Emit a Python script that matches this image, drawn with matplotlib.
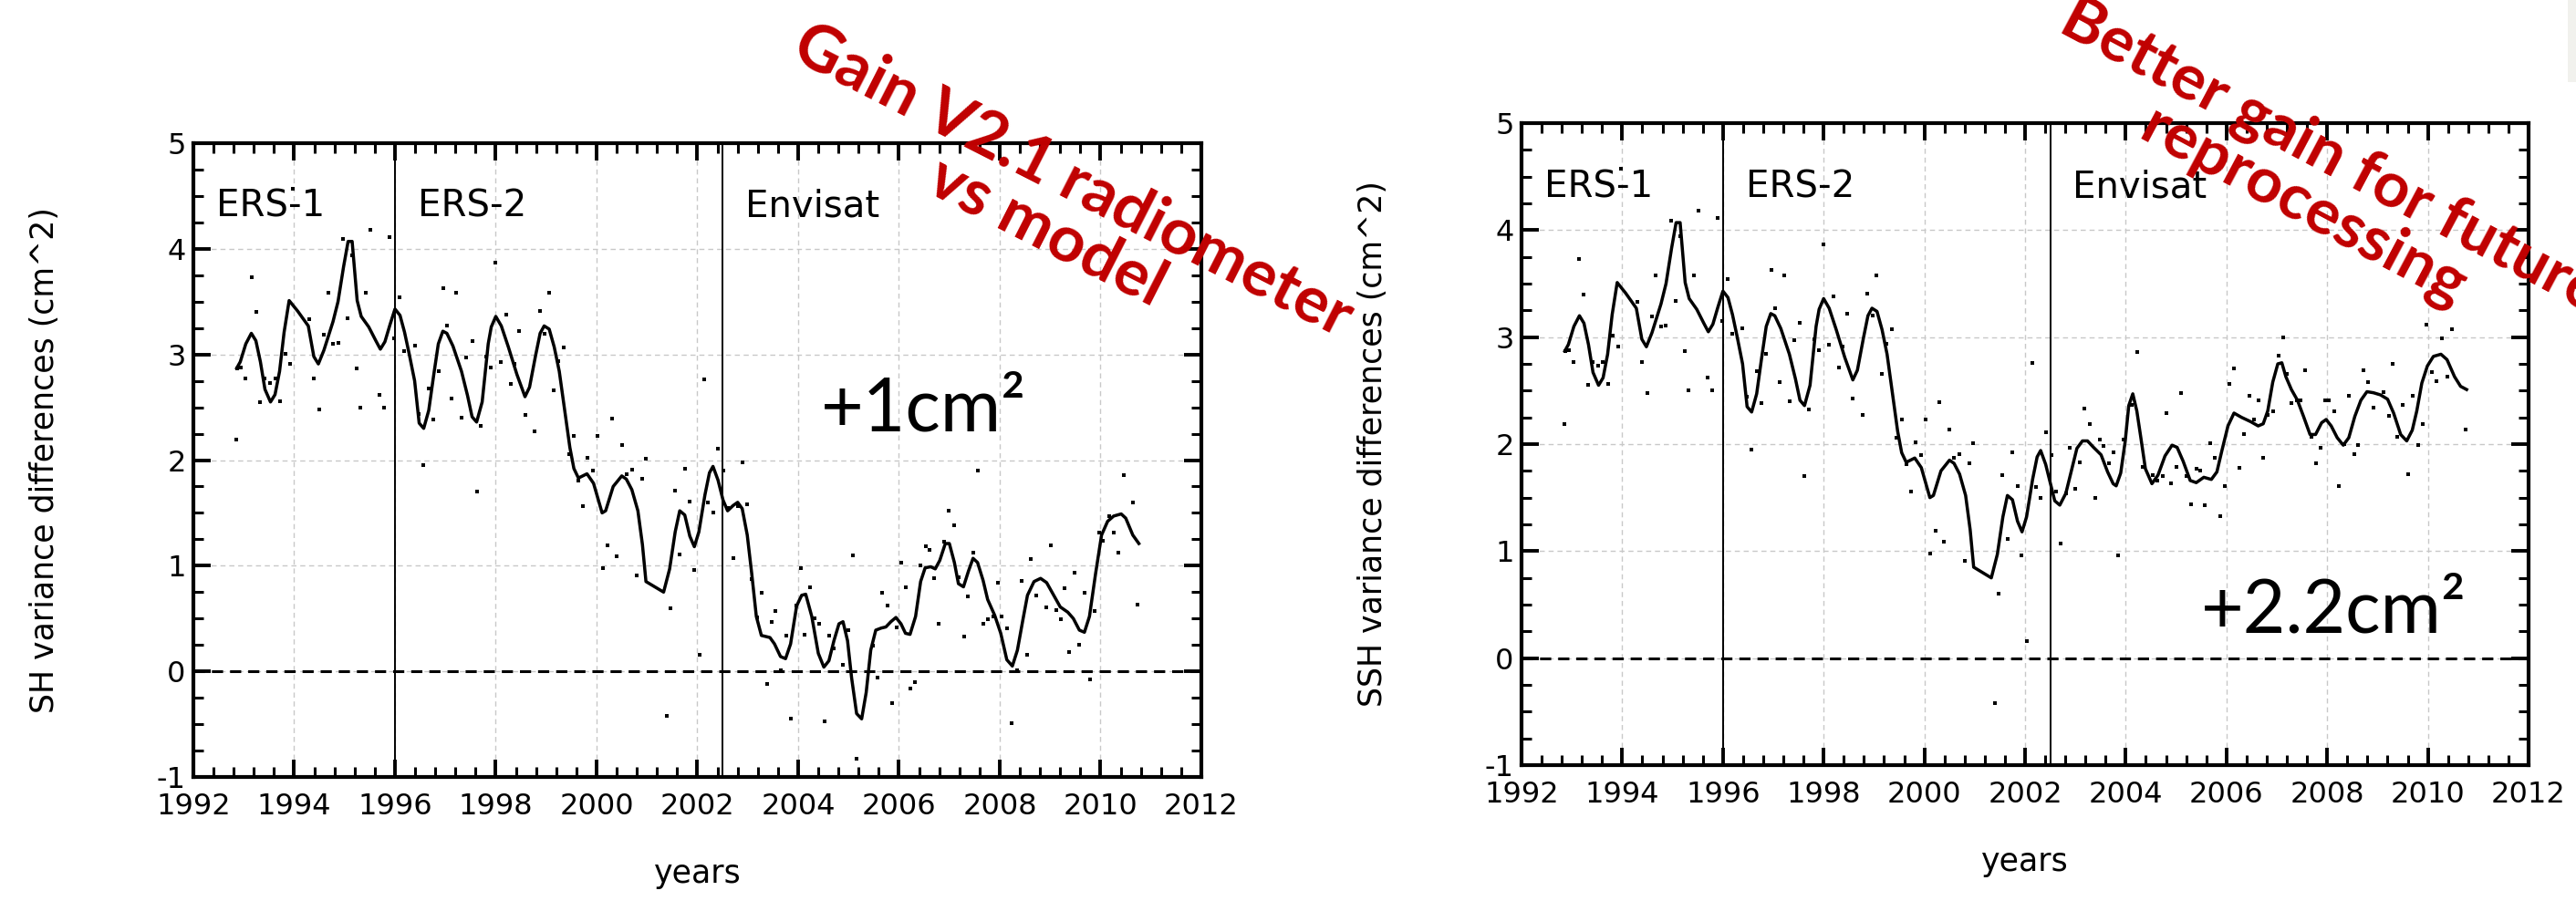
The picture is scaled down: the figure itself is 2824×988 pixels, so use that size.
import matplotlib
matplotlib.use("Agg")
import matplotlib.pyplot as plt
from matplotlib.ticker import MultipleLocator
from matplotlib.patches import Rectangle

plt.rcParams["axes.unicode_minus"] = False

# ERS-1 / ERS-2 part, same in both panels
ers_t = [1992.86, 1992.93, 1993.04, 1993.15, 1993.24, 1993.33, 1993.42, 1993.53, 1993.62, 1993.71,
         1993.80, 1993.90, 1994.07, 1994.28, 1994.39, 1994.48, 1994.59, 1994.77, 1994.87, 1994.98,
         1995.07, 1995.15, 1995.25, 1995.33, 1995.48, 1995.62, 1995.71, 1995.80, 1995.90, 1996.00,
         1996.10, 1996.19, 1996.28, 1996.39, 1996.48, 1996.57, 1996.67, 1996.77, 1996.86, 1996.95,
         1997.03, 1997.15, 1997.32, 1997.44, 1997.53, 1997.62, 1997.73, 1997.85, 1997.91, 1998.00,
         1998.11, 1998.25, 1998.42, 1998.58, 1998.67, 1998.79, 1998.88, 1998.96, 1999.06, 1999.16,
         1999.26, 1999.36, 1999.47, 1999.55, 1999.64, 1999.81, 1999.94, 2000.11, 2000.18, 2000.33,
         2000.50, 2000.59, 2000.70, 2000.82, 2000.91, 2000.98, 2001.33, 2001.45, 2001.56, 2001.65,
         2001.75, 2001.85, 2001.94, 2002.03, 2002.15, 2002.24, 2002.31, 2002.41, 2002.51]
ers_v = [2.87, 2.93, 3.10, 3.20, 3.13, 2.93, 2.67, 2.55, 2.62, 2.84,
         3.21, 3.51, 3.41, 3.27, 2.98, 2.91, 3.04, 3.31, 3.50, 3.83,
         4.07, 4.07, 3.51, 3.36, 3.26, 3.13, 3.05, 3.12, 3.28, 3.43,
         3.37, 3.21, 3.01, 2.75, 2.35, 2.30, 2.47, 2.81, 3.10, 3.22,
         3.20, 3.08, 2.84, 2.61, 2.41, 2.36, 2.55, 3.10, 3.26, 3.36,
         3.27, 3.07, 2.81, 2.60, 2.69, 2.99, 3.20, 3.27, 3.24, 3.07,
         2.84, 2.50, 2.12, 1.92, 1.83, 1.87, 1.78, 1.50, 1.52, 1.75,
         1.85, 1.82, 1.72, 1.52, 1.20, 0.85, 0.75, 0.97, 1.32, 1.52,
         1.48, 1.28, 1.18, 1.32, 1.67, 1.88, 1.94, 1.81, 1.62]

ers_dot_t = [1992.85, 1992.87, 1992.95, 1993.04, 1993.15, 1993.24, 1993.32, 1993.42, 1993.52, 1993.62,
             1993.72, 1993.82, 1993.92, 1993.97, 1994.30, 1994.39, 1994.50, 1994.59, 1994.67, 1994.77,
             1994.87, 1994.97, 1995.06, 1995.15, 1995.24, 1995.32, 1995.42, 1995.52, 1995.69, 1995.79,
             1995.89, 1995.98, 1996.09, 1996.19, 1996.39, 1996.47, 1996.56, 1996.67, 1996.76, 1996.86,
             1996.96, 1997.03, 1997.12, 1997.22, 1997.32, 1997.42, 1997.53, 1997.62, 1997.71, 1997.81,
             1997.90, 1998.00, 1998.10, 1998.20, 1998.30, 1998.38, 1998.47, 1998.58, 1998.77, 1998.87,
             1998.97, 1999.05, 1999.15, 1999.24, 1999.35, 1999.45, 1999.55, 1999.64, 1999.73, 1999.82,
             1999.93, 2000.02, 2000.12, 2000.22, 2000.30, 2000.39, 2000.50, 2000.59, 2000.70, 2000.80,
             2000.90, 2000.97, 2001.40, 2001.47, 2001.55, 2001.65, 2001.75, 2001.85, 2001.93, 2002.04,
             2002.14, 2002.21, 2002.31, 2002.41, 2002.52]
ers_dot_v = [2.19, 2.87, 2.88, 2.77, 3.73, 3.40, 2.55, 2.77, 2.73, 2.77,
             2.56, 3.01, 2.91, 4.57, 3.33, 2.77, 2.48, 3.19, 3.58, 3.10,
             3.11, 4.09, 3.34, 3.94, 2.87, 2.50, 3.58, 4.18, 2.62, 2.50,
             4.11, 3.15, 3.54, 3.03, 3.08, 2.44, 1.95, 2.68, 2.38, 2.84,
             3.63, 3.27, 2.58, 3.58, 2.40, 2.97, 3.13, 1.70, 2.32, 2.98,
             2.88, 3.87, 2.93, 3.38, 2.72, 2.91, 3.22, 2.43, 2.27, 3.41,
             3.20, 3.58, 2.66, 2.94, 3.07, 2.06, 2.23, 1.81, 1.56, 2.02,
             1.90, 2.23, 0.98, 1.19, 2.39, 1.09, 2.14, 1.87, 1.91, 0.91,
             1.82, 2.01, -0.42, 0.60, 1.71, 1.11, 1.92, 1.61, 0.96, 0.16,
             2.76, 1.60, 1.50, 2.11, 1.90]

# Envisat, left panel (radiometer V2.1 vs model)
sh_t = [2002.60, 2002.71, 2002.80, 2002.89, 2002.99, 2003.08, 2003.17, 2003.27, 2003.44, 2003.53,
        2003.65, 2003.75, 2003.85, 2003.97, 2004.07, 2004.15, 2004.27, 2004.40, 2004.51, 2004.61,
        2004.71, 2004.81, 2004.89, 2004.98, 2005.06, 2005.16, 2005.26, 2005.35, 2005.44, 2005.54,
        2005.65, 2005.74, 2005.84, 2005.94, 2006.04, 2006.13, 2006.22, 2006.33, 2006.43, 2006.52,
        2006.63, 2006.72, 2006.81, 2006.92, 2007.00, 2007.10, 2007.18, 2007.28, 2007.38, 2007.47,
        2007.56, 2007.67, 2007.76, 2007.90, 2008.02, 2008.14, 2008.25, 2008.35, 2008.46, 2008.55,
        2008.68, 2008.81, 2008.93, 2009.06, 2009.20, 2009.35, 2009.46, 2009.58, 2009.68, 2009.78,
        2009.90, 2010.02, 2010.14, 2010.26, 2010.41, 2010.50, 2010.64, 2010.76]
sh_v = [1.52, 1.57, 1.60, 1.54, 1.29, 0.92, 0.52, 0.34, 0.32, 0.26,
        0.14, 0.12, 0.26, 0.62, 0.72, 0.73, 0.52, 0.17, 0.04, 0.10,
        0.29, 0.45, 0.47, 0.29, -0.06, -0.40, -0.45, -0.20, 0.20, 0.39,
        0.41, 0.42, 0.47, 0.51, 0.45, 0.36, 0.35, 0.52, 0.85, 0.98,
        0.99, 0.97, 1.05, 1.21, 1.21, 1.03, 0.83, 0.80, 0.95, 1.07,
        1.03, 0.86, 0.68, 0.53, 0.36, 0.11, 0.05, 0.20, 0.49, 0.72,
        0.85, 0.88, 0.84, 0.73, 0.61, 0.56, 0.50, 0.39, 0.37, 0.52,
        0.92, 1.29, 1.42, 1.47, 1.49, 1.45, 1.29, 1.21]

sh_dot_t = [2002.61, 2002.71, 2002.81, 2002.89, 2002.98, 2003.08, 2003.19, 2003.28, 2003.39, 2003.48,
            2003.55, 2003.66, 2003.76, 2003.86, 2003.96, 2004.05, 2004.13, 2004.23, 2004.32, 2004.42,
            2004.52, 2004.62, 2004.71, 2004.89, 2004.99, 2005.09, 2005.15, 2005.48, 2005.57, 2005.66,
            2005.77, 2005.87, 2005.96, 2006.04, 2006.14, 2006.23, 2006.31, 2006.43, 2006.54, 2006.61,
            2006.70, 2006.79, 2006.90, 2006.99, 2007.10, 2007.19, 2007.29, 2007.37, 2007.47, 2007.56,
            2007.67, 2007.76, 2007.87, 2007.97, 2008.04, 2008.14, 2008.24, 2008.35, 2008.44, 2008.55,
            2008.62, 2008.72, 2008.92, 2009.02, 2009.12, 2009.22, 2009.29, 2009.38, 2009.49, 2009.58,
            2009.68, 2009.79, 2009.88, 2009.97, 2010.05, 2010.18, 2010.26, 2010.36, 2010.46, 2010.64,
            2010.73]
sh_dot_v = [1.55, 1.07, 1.56, 1.98, 1.58, 0.87, 0.51, 0.74, -0.12, 0.47,
            0.57, 0.01, 0.34, -0.45, 0.62, 0.98, 0.35, 0.80, 0.50, 0.45,
            -0.47, 0.34, 0.22, 0.06, 0.39, 1.10, -0.83, 0.24, -0.06, 0.74,
            0.62, -0.30, 0.42, 1.03, 0.80, -0.16, -0.10, 1.00, 1.18, 1.15,
            0.88, 0.45, 1.23, 1.52, 1.38, 0.89, 0.33, 0.71, 1.12, 1.90,
            0.45, 0.49, 0.52, 0.84, 0.52, 0.41, -0.49, 0.01, 0.86, 0.16,
            1.06, 0.72, 0.61, 1.19, 0.58, 0.49, 0.79, 0.18, 0.93, 0.25,
            0.74, -0.08, 0.57, 1.31, 1.24, 1.47, 1.31, 1.12, 1.86, 1.60,
            0.63]

# Envisat, right panel (better gain)
ssh_t = [2002.59, 2002.69, 2002.81, 2002.93, 2003.03, 2003.14, 2003.24, 2003.36, 2003.51, 2003.64,
         2003.75, 2003.81, 2003.90, 2003.99, 2004.06, 2004.14, 2004.22, 2004.30, 2004.39, 2004.52,
         2004.64, 2004.78, 2004.92, 2005.02, 2005.14, 2005.28, 2005.40, 2005.55, 2005.70, 2005.81,
         2005.91, 2006.03, 2006.15, 2006.30, 2006.48, 2006.63, 2006.73, 2006.82, 2006.92, 2007.02,
         2007.10, 2007.18, 2007.29, 2007.41, 2007.53, 2007.66, 2007.77, 2007.89, 2007.98, 2008.08,
         2008.20, 2008.32, 2008.43, 2008.55, 2008.67, 2008.79, 2008.92, 2009.06, 2009.20, 2009.32,
         2009.46, 2009.58, 2009.69, 2009.78, 2009.88, 2009.99, 2010.11, 2010.26, 2010.38, 2010.53,
         2010.65, 2010.77]
ssh_v = [1.47, 1.43, 1.54, 1.77, 1.96, 2.03, 2.03, 1.97, 1.90, 1.74,
         1.63, 1.61, 1.73, 2.03, 2.36, 2.47, 2.31, 2.06, 1.77, 1.63,
         1.71, 1.89, 1.99, 1.97, 1.84, 1.66, 1.64, 1.69, 1.67, 1.74,
         1.94, 2.17, 2.29, 2.25, 2.21, 2.17, 2.19, 2.31, 2.58, 2.75,
         2.76, 2.63, 2.51, 2.41, 2.26, 2.09, 2.09, 2.20, 2.23, 2.17,
         2.06, 1.99, 2.06, 2.26, 2.41, 2.49, 2.48, 2.46, 2.42, 2.29,
         2.09, 2.03, 2.13, 2.31, 2.57, 2.73, 2.82, 2.84, 2.79, 2.63,
         2.54, 2.51]

ssh_dot_t = [2002.61, 2002.70, 2002.81, 2002.88, 2002.99, 2003.09, 2003.18, 2003.28, 2003.39, 2003.48,
             2003.55, 2003.66, 2003.76, 2003.85, 2003.96, 2004.12, 2004.23, 2004.33, 2004.53, 2004.63,
             2004.73, 2004.81, 2004.90, 2005.00, 2005.10, 2005.21, 2005.30, 2005.40, 2005.47, 2005.57,
             2005.67, 2005.77, 2005.87, 2005.97, 2006.05, 2006.15, 2006.25, 2006.35, 2006.45, 2006.55,
             2006.64, 2006.72, 2006.82, 2006.93, 2007.03, 2007.12, 2007.20, 2007.29, 2007.40, 2007.47,
             2007.57, 2007.68, 2007.77, 2007.87, 2007.96, 2008.04, 2008.14, 2008.24, 2008.34, 2008.44,
             2008.54, 2008.62, 2008.72, 2008.82, 2008.92, 2009.12, 2009.22, 2009.30, 2009.40, 2009.50,
             2009.60, 2009.70, 2009.80, 2009.90, 2009.98, 2010.08, 2010.17, 2010.27, 2010.38, 2010.47,
             2010.75]
ssh_dot_v = [1.56, 1.07, 1.54, 1.97, 1.58, 1.83, 2.33, 2.19, 1.50, 2.04,
             1.98, 1.82, 1.92, 0.96, 2.04, 2.37, 2.86, 1.79, 1.71, 1.66,
             1.70, 2.29, 1.63, 1.79, 2.48, 1.70, 1.44, 1.77, 1.75, 1.43,
             2.01, 1.87, 1.33, 1.61, 2.56, 2.71, 1.78, 2.09, 2.45, 2.23,
             2.41, 1.87, 2.27, 2.31, 2.83, 3.00, 2.66, 2.38, 2.41, 2.41,
             2.69, 2.07, 1.82, 1.97, 2.41, 2.41, 2.31, 1.61, 2.00, 2.45,
             1.91, 1.99, 2.69, 2.58, 2.34, 2.49, 2.26, 2.75, 2.07, 2.37,
             1.72, 2.45, 1.99, 2.19, 3.12, 2.67, 2.59, 2.99, 2.63, 3.07,
             2.14]

missions = ["ERS-1", "ERS-2", "Envisat"]
mission_x = [1992.45, 1996.45, 2002.95]
switch_years = [1996.0, 2002.5]

W, H = 2824, 988
fig = plt.figure(figsize=(W / 100, H / 100), dpi=100)
fig.patch.set_facecolor("white")


def panel(rect, t_env, v_env, dt_env, dv_env, ylabel):
    ax = fig.add_axes(rect)
    ax.set_xlim(1992, 2012)
    ax.set_ylim(-1, 5)
    ax.xaxis.set_major_locator(MultipleLocator(2))
    ax.xaxis.set_minor_locator(MultipleLocator(0.4))
    ax.yaxis.set_major_locator(MultipleLocator(1))
    ax.yaxis.set_minor_locator(MultipleLocator(0.25))
    ax.tick_params(which="both", direction="in", top=True, right=True, color="black")
    ax.tick_params(which="major", length=14, width=2.8, labelsize=23)
    ax.tick_params(axis="x", which="major", pad=12)
    ax.tick_params(axis="y", which="major", pad=6)
    ax.tick_params(which="minor", length=8, width=2.2)
    for s in ax.spines.values():
        s.set_linewidth(3.0)
    ax.grid(True, which="major", color="#c8c8c8", linestyle=(0, (4, 3)), linewidth=1.0)
    ax.set_axisbelow(True)

    ax.axhline(0, color="black", linestyle=(0, (4, 2.5)), linewidth=2.2)
    for x in switch_years:
        ax.axvline(x, color="black", linewidth=1.4)

    ax.plot(ers_t + t_env, ers_v + v_env, color="black", linewidth=2.5)
    ax.plot(ers_dot_t + dt_env, ers_dot_v + dv_env, "s", color="black", markersize=2.9,
            markeredgewidth=0)

    for name, x in zip(missions, mission_x):
        ax.text(x, 4.4, name, fontsize=29, va="center", ha="left")

    ax.set_xlabel("years", fontsize=25, labelpad=30)
    ax.set_ylabel(ylabel, fontsize=25, labelpad=76)
    return ax


ax1 = panel([212 / W, 1 - 852 / H, 1105 / W, 695 / H], sh_t, sh_v, sh_dot_t, sh_dot_v,
            "SH variance differences (cm^2)")
ax2 = panel([1668 / W, 1 - 839 / H, 1104 / W, 704 / H], ssh_t, ssh_v, ssh_dot_t, ssh_dot_v,
            "SSH variance differences (cm^2)")

# annotations
ax1.text(2004.45, 2.28, "+1cm²", fontsize=58, family=["Lato", "DejaVu Sans"], ha="left", va="baseline")
ax2.text(2005.5, 0.24, "+2.2cm²", fontsize=58, family=["Lato", "DejaVu Sans"], ha="left", va="baseline")

red = "#c00000"
fig.text(1162 / W, 1 - 226 / H, "Gain V2.1 radiometer\nvs model", color=red, fontsize=51,
         fontweight="bold", family=["Lato", "DejaVu Sans"], rotation=-27, rotation_mode="anchor",
         ha="center", va="center", multialignment="center", linespacing=0.95)
fig.text(2540 / W, 1 - 200 / H, "Better gain for future\nreprocessing", color=red, fontsize=50,
         fontweight="bold", family=["Lato", "DejaVu Sans"], rotation=-28, rotation_mode="anchor",
         ha="center", va="center", multialignment="center", linespacing=0.95)

fig.patches.append(Rectangle((2815 / W, 1 - 90 / H), 9 / W, 90 / H, transform=fig.transFigure,
                             facecolor="#f1f1ed", edgecolor="none"))

fig.savefig("out.png", dpi=100)
